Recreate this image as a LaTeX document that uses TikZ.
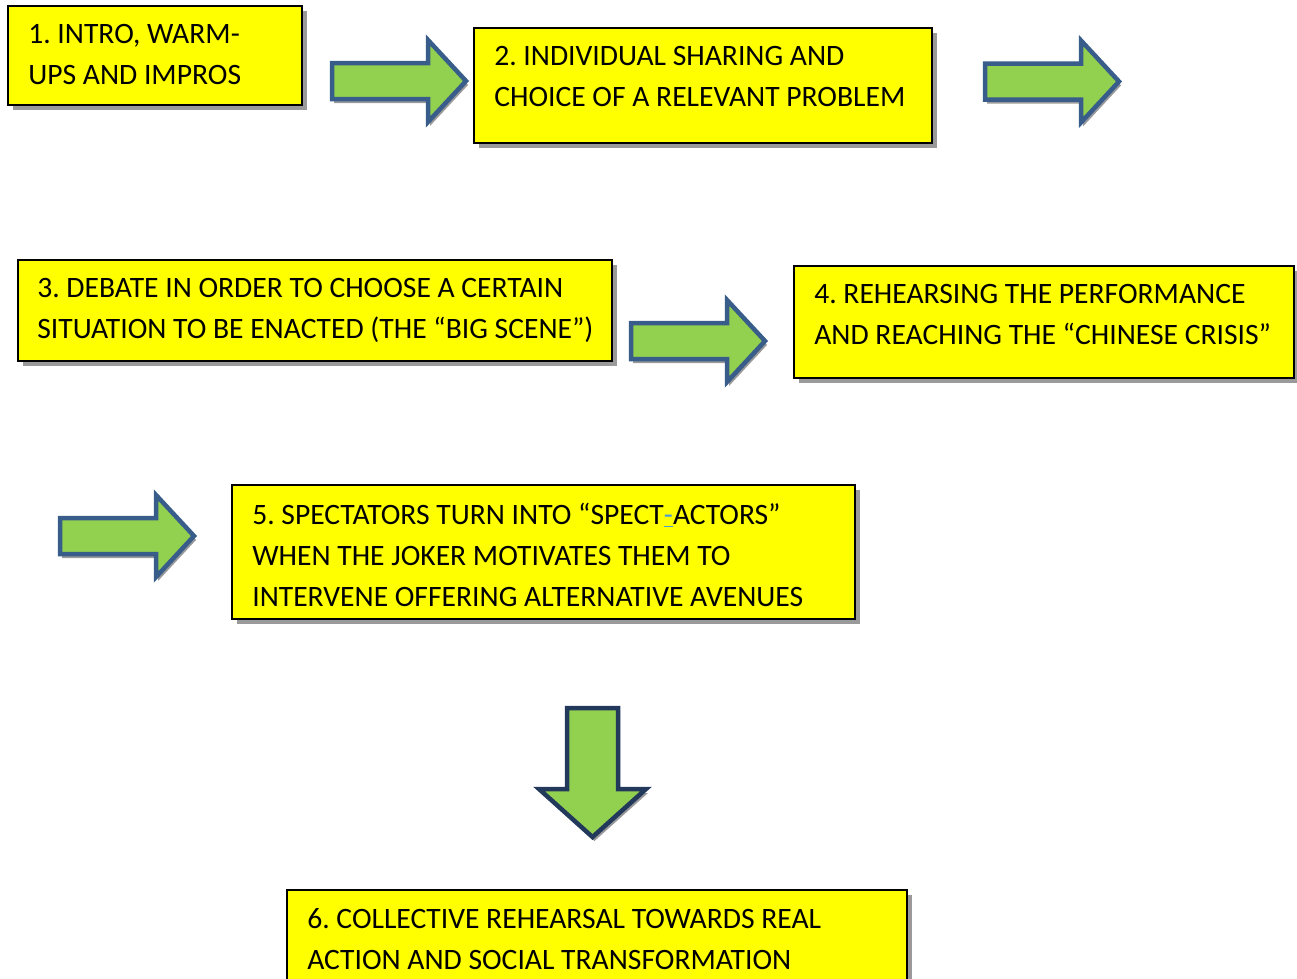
\documentclass[tikz,border=0pt]{standalone}
\usepackage{fontspec}
\setmainfont{Carlito}
\usetikzlibrary{shadows}
\definecolor{boxyellow}{HTML}{FFFF00}
\definecolor{arrowgreen}{HTML}{92D050}
\definecolor{navydark}{HTML}{22395C}
\definecolor{navy}{HTML}{385D8A}
\definecolor{shadowgray}{HTML}{9A9A9A}
\definecolor{linkblue}{HTML}{4A9BD9}
\frenchspacing
\begin{document}
\begin{tikzpicture}[x=1pt,y=-1pt,
  stepbox/.style={draw=black, line width=1.8pt, fill=boxyellow, inner sep=0pt,
    drop shadow={shadow xshift=5pt, shadow yshift=-5pt, fill=shadowgray, opacity=1}},
  steptext/.style={anchor=north west, inner sep=0pt, align=left,
    font=\fontsize{29.6}{41}\selectfont\frenchspacing},
  blockarrow/.style={fill=arrowgreen, draw=navy, line width=4.5pt, line join=miter,
    drop shadow={shadow xshift=2pt, shadow yshift=-4pt, fill=shadowgray, opacity=1}},
  rarr/.pic={\path[blockarrow, pic actions] (2,-18) -- (98,-18) -- (98,-41) -- (136,0)
      -- (98,41) -- (98,18) -- (2,18) -- cycle;}
]
\useasboundingbox (0,0) rectangle (1297,978);

% boxes
\node[stepbox, minimum width=294pt, minimum height=99pt] (b1) at (155,55.5) {};
\node[stepbox, minimum width=458pt, minimum height=115pt] (b2) at (703,85.5) {};
\node[stepbox, minimum width=594pt, minimum height=101pt] (b3) at (315,310.5) {};
\node[stepbox, minimum width=500pt, minimum height=112pt] (b4) at (1044,322) {};
\node[stepbox, minimum width=623pt, minimum height=134pt] (b5) at (543.5,552) {};
\node[stepbox, minimum width=620pt, minimum height=99pt] (b6) at (597,939.5) {};

% texts
\node[steptext] (t1) at ([shift={(21,19)}]b1.north west) {1. INTRO, WARM-\\UPS AND IMPROS};
\node[steptext] (t2) at ([shift={(21,19)}]b2.north west) {2. INDIVIDUAL SHARING AND\\CHOICE OF A RELEVANT PROBLEM};
\node[steptext] (t3) at ([shift={(20,19)}]b3.north west) {3. DEBATE IN ORDER TO CHOOSE A CERTAIN\\SITUATION TO BE ENACTED (THE “BIG SCENE”)};
\node[steptext] (t4) at ([shift={(21,19)}]b4.north west) {4. REHEARSING THE PERFORMANCE\\AND REACHING THE “CHINESE CRISIS”};
\node[steptext] (t5) at ([shift={(21,19)}]b5.north west) {5. SPECTATORS TURN INTO “SPECT\textcolor{linkblue}{\underline{-}}ACTORS”\\WHEN THE JOKER MOTIVATES THEM TO\\INTERVENE OFFERING ALTERNATIVE AVENUES};
\node[steptext] (t6) at ([shift={(21,19)}]b6.north west) {6. COLLECTIVE REHEARSAL TOWARDS REAL\\ACTION AND SOCIAL TRANSFORMATION};

% block arrows
\pic[draw=navydark] (a1) at (330,81) {rarr};
\pic (a2) at (983,81.5) {rarr};
\pic (a3) at (629,341) {rarr};
\pic (a4) at (58,536) {rarr};
\path[blockarrow, draw=navydark] (567,708) -- (618,708) -- (618,789) -- (646,789)
  -- (592.5,837) -- (539,789) -- (567,789) -- cycle;
\end{tikzpicture}
\end{document}
